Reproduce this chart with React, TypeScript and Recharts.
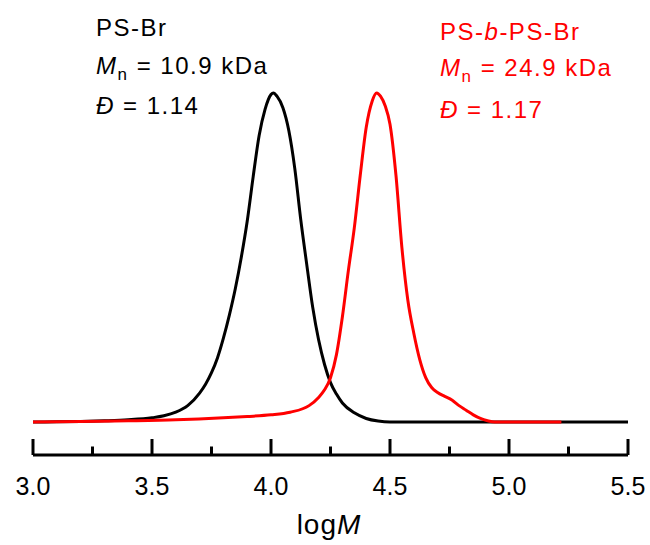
import React from "react";
import { LineChart, Line, XAxis, YAxis } from "recharts";

// PS-Br (black)
const blackX = [3.0, 3.1, 3.2, 3.3, 3.4, 3.5, 3.55, 3.6, 3.65, 3.7, 3.725, 3.75, 3.775, 3.8, 3.825, 3.85, 3.875, 3.9, 3.925, 3.95, 3.975, 4.0, 4.01, 4.025, 4.05, 4.075, 4.1, 4.125, 4.15, 4.175, 4.2, 4.225, 4.25, 4.275, 4.3, 4.35, 4.4, 4.45, 4.5, 4.6, 5.0, 5.5];
const blackY = [0.0, 0.001, 0.002, 0.004, 0.007, 0.013, 0.019, 0.03, 0.05, 0.088, 0.115, 0.15, 0.195, 0.255, 0.325, 0.405, 0.5, 0.61, 0.745, 0.87, 0.95, 0.995, 1.0, 0.99, 0.955, 0.885, 0.77, 0.615, 0.48, 0.35, 0.25, 0.175, 0.12, 0.085, 0.058, 0.028, 0.011, 0.003, 0.0, 0.0, 0.0, 0.0];

// PS-b-PS-Br (red)
const redX = [3.0, 3.2, 3.4, 3.6, 3.8, 3.9, 4.0, 4.08, 4.16, 4.2, 4.225, 4.25, 4.275, 4.3, 4.325, 4.35, 4.375, 4.4, 4.425, 4.444, 4.46, 4.48, 4.5, 4.525, 4.55, 4.575, 4.6, 4.625, 4.65, 4.675, 4.7, 4.73, 4.76, 4.79, 4.82, 4.85, 4.88, 4.91, 4.94, 5.0, 5.22];
const redY = [0.0, 0.002, 0.004, 0.007, 0.013, 0.017, 0.022, 0.03, 0.05, 0.075, 0.098, 0.135, 0.205, 0.32, 0.46, 0.59, 0.75, 0.895, 0.975, 1.0, 0.99, 0.96, 0.905, 0.75, 0.53, 0.37, 0.27, 0.19, 0.135, 0.105, 0.09, 0.078, 0.067, 0.05, 0.036, 0.022, 0.011, 0.004, 0.0, 0.0, 0.0];

const tickValues = [3, 3.25, 3.5, 3.75, 4, 4.25, 4.5, 4.75, 5, 5.25, 5.5];
const majorTicks = [3, 3.5, 4, 4.5, 5, 5.5];

const blackData = blackX.map((x, i) => ({ x, y: blackY[i] }));
const redData = redX.map((x, i) => ({ x, y: redY[i] }));

const FONT = "'Liberation Sans', Arial, Helvetica, sans-serif";
const W = 650;
const H = 545;

const AxisTick = (props: any) => {
  const { x, y, payload } = props;
  const v = payload.value as number;
  const major = majorTicks.some((m) => Math.abs(m - v) < 1e-9);
  return (
    <g>
      <line x1={x} x2={x} y1={y} y2={y - (major ? 16 : 8.5)} stroke="#000" strokeWidth={3} />
      {major && (
        <text x={x} y={y + 40} textAnchor="middle" fontSize={25} fontFamily={FONT} fill="#000">
          {v.toFixed(1)}
        </text>
      )}
    </g>
  );
};

export default function App() {
  return (
    <div style={{ position: "absolute", left: 0, top: 0, width: W, height: H, background: "#fff" }}>
      <LineChart width={W} height={H} margin={{ top: 60, right: 22, bottom: 0, left: 33 }}>
        <XAxis
          type="number"
          dataKey="x"
          domain={[3, 5.5]}
          ticks={tickValues}
          interval={0}
          allowDataOverflow
          height={90}
          tickLine={false}
          tickSize={0}
          tickMargin={0}
          axisLine={{ stroke: "#000", strokeWidth: 3 }}
          tick={<AxisTick />}
        />
        <YAxis hide type="number" domain={[-0.1, 1.1]} allowDataOverflow />
        <Line
          data={blackData}
          dataKey="y"
          type="monotone"
          stroke="#000000"
          strokeWidth={3}
          dot={false}
          activeDot={false}
          isAnimationActive={false}
        />
        <Line
          data={redData}
          dataKey="y"
          type="monotone"
          stroke="#ff0000"
          strokeWidth={3}
          dot={false}
          activeDot={false}
          isAnimationActive={false}
        />
      </LineChart>
      <svg
        width={W}
        height={H}
        style={{ position: "absolute", left: 0, top: 0, pointerEvents: "none" }}
      >
        <g fontFamily={FONT} fontSize={24} letterSpacing={1.5} fill="#000">
          <text x={96} y={36}>PS-Br</text>
          <text x={96} y={74}>
            <tspan fontStyle="italic">M</tspan>
            <tspan fontSize={17} dy={6}>n</tspan>
            <tspan dy={-6}> = 10.9 kDa</tspan>
          </text>
          <text x={96} y={114}>
            <tspan fontStyle="italic">Đ</tspan>
            <tspan> = 1.14</tspan>
          </text>
        </g>
        <g fontFamily={FONT} fontSize={24} letterSpacing={1.5} fill="#ff0000">
          <text x={440} y={40}>
            PS-<tspan fontStyle="italic">b</tspan>-PS-Br
          </text>
          <text x={440} y={76}>
            <tspan fontStyle="italic">M</tspan>
            <tspan fontSize={17} dy={6}>n</tspan>
            <tspan dy={-6}> = 24.9 kDa</tspan>
          </text>
          <text x={440} y={118}>
            <tspan fontStyle="italic">Đ</tspan>
            <tspan> = 1.17</tspan>
          </text>
        </g>
        <text x={329} y={534} textAnchor="middle" fontFamily={FONT} fontSize={28} letterSpacing={1} fill="#000">
          log<tspan fontStyle="italic">M</tspan>
        </text>
      </svg>
    </div>
  );
}
